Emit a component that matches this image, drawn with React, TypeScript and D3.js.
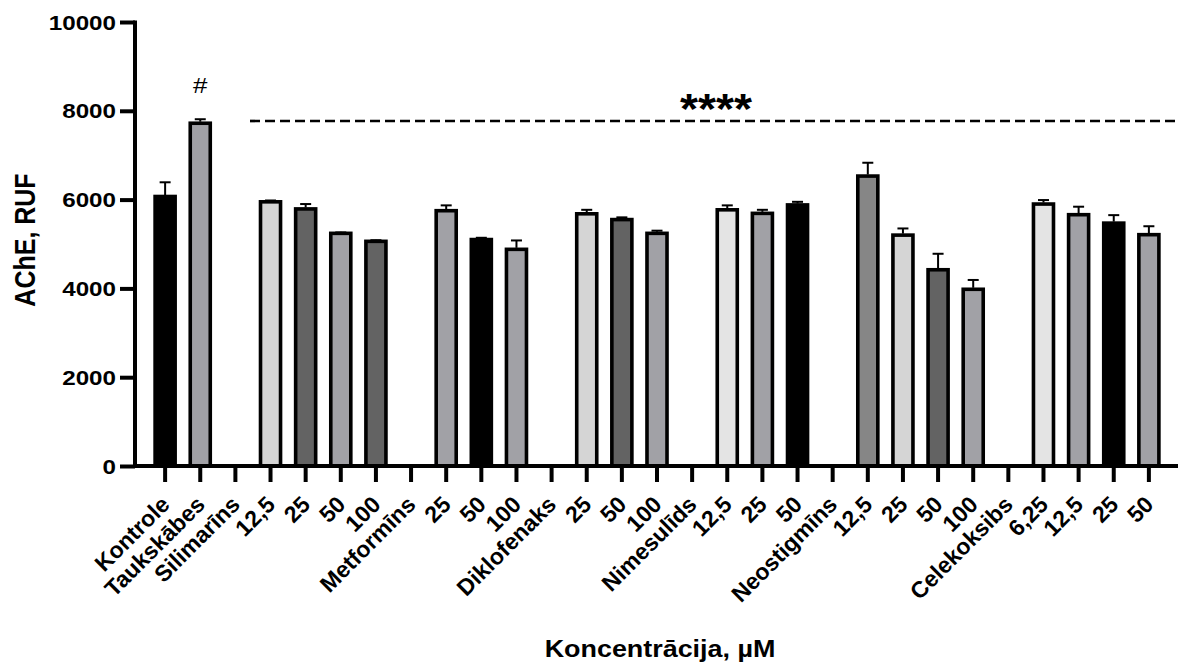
import React, { useEffect, useRef } from 'react'
import * as d3 from 'd3'

// x axis categories (drug names are group headers without bars)
const categories = [
  'Kontrole', 'Taukskābes', 'Silimarīns', '12,5', '25', '50', '100',
  'Metformīns', '25', '50', '100',
  'Diklofenaks', '25', '50', '100',
  'Nimesulīds', '12,5', '25', '50',
  'Neostigmīns', '12,5', '25', '50', '100',
  'Celekoksibs', '6,25', '12,5', '25', '50',
]
// mean AChE, RUF (null = no bar)
const means: (number | null)[] = [
  6070, 7720, null, 5950, 5790, 5240, 5060,
  null, 5750, 5100, 4880,
  null, 5680, 5550, 5240,
  null, 5770, 5690, 5880,
  null, 6530, 5200, 4420, 3980,
  null, 5900, 5660, 5470, 5210,
]
// error (SEM, upward only)
const errors: (number | null)[] = [
  320, 90, null, 30, 110, 20, 25,
  null, 120, 40, 200,
  null, 90, 50, 60,
  null, 100, 80, 70,
  null, 300, 150, 360, 210,
  null, 90, 180, 180, 190,
]
const yTicks = [0, 2000, 4000, 6000, 8000, 10000]

// bar fills (style)
const K = '#000000', G = '#a1a1a6', D = '#636363', L = '#d5d5d5', XL = '#e4e4e4', M = '#868686'
const fills = [
  K, G, null, L, D, G, D,
  null, G, K, G,
  null, L, D, G,
  null, XL, G, K,
  null, M, L, D, G,
  null, XL, G, K, G,
]

const FONT = '"Liberation Sans", Arial, sans-serif'
const SX = 1.18 // the picture is a bit wider than tall

export default function App() {
  const ref = useRef<SVGSVGElement | null>(null)

  useEffect(() => {
    const svg = d3.select(ref.current)
    svg.selectAll('*').remove()

    const x = d3.scaleBand<number>()
      .domain(categories.map((_, i) => i))
      .range([140, 1174])
      .padding(0.43)
    const y = d3.scaleLinear().domain([0, 10000]).range([466, 22])

    // y axis
    const yAxis = svg.append('g')
      .attr('transform', 'translate(135,0)')
      .call(d3.axisLeft(y).tickValues(yTicks).tickSize(15).tickSizeOuter(0).tickFormat(() => ''))
    yAxis.select('.domain').attr('stroke', '#000').attr('stroke-width', 4).attr('d', 'M0,20.5V466')
    yAxis.selectAll('.tick line').attr('stroke', '#000').attr('stroke-width', 4)
    svg.selectAll('.ylab')
      .data(yTicks)
      .enter()
      .append('text')
      .attr('class', 'ylab')
      .attr('transform', d => 'translate(116,' + y(d) + ') scale(' + SX + ',1)')
      .attr('dy', '0.37em')
      .attr('text-anchor', 'end')
      .attr('font-family', FONT).attr('font-weight', 'bold').attr('font-size', 20.5)
      .text(d => d3.format('d')(d))

    // bars
    const idx = means.map((v, i) => i).filter(i => means[i] !== null)
    svg.selectAll('.bar')
      .data(idx)
      .enter()
      .append('rect')
      .attr('class', 'bar')
      .attr('x', i => x(i)!)
      .attr('y', i => y(means[i]!))
      .attr('width', x.bandwidth())
      .attr('height', i => y(0) - y(means[i]!))
      .attr('fill', i => fills[i]!)
      .attr('stroke', '#000')
      .attr('stroke-width', 3.6)

    // error bars
    const eb = svg.selectAll('.err').data(idx).enter().append('g').attr('class', 'err')
    eb.append('line')
      .attr('x1', i => x(i)! + x.bandwidth() / 2)
      .attr('x2', i => x(i)! + x.bandwidth() / 2)
      .attr('y1', i => y(means[i]!) - 1.5)
      .attr('y2', i => y(means[i]! + errors[i]!))
      .attr('stroke', '#000').attr('stroke-width', 2)
    eb.append('line')
      .attr('x1', i => x(i)! + x.bandwidth() / 2 - 5.5)
      .attr('x2', i => x(i)! + x.bandwidth() / 2 + 5.5)
      .attr('y1', i => y(means[i]! + errors[i]!))
      .attr('y2', i => y(means[i]! + errors[i]!))
      .attr('stroke', '#000').attr('stroke-width', 2)

    // x axis
    const xAxis = svg.append('g')
      .attr('transform', 'translate(0,466)')
      .call(d3.axisBottom(x).tickSize(16).tickSizeOuter(0).tickFormat(() => ''))
    xAxis.select('.domain').remove()
    xAxis.selectAll('.tick line').attr('stroke', '#000').attr('stroke-width', 4)
    svg.selectAll('.xlab')
      .data(categories)
      .enter()
      .append('text')
      .attr('class', 'xlab')
      .attr('transform', (d, i) =>
        'translate(' + (x(i)! + x.bandwidth() / 2 + 6) + ',506) rotate(-45)')
      .attr('text-anchor', 'end')
      .attr('font-family', FONT).attr('font-weight', 'bold').attr('font-size', 23)
      .text(d => d)
    svg.append('line')
      .attr('x1', 133).attr('x2', 1178)
      .attr('y1', 466).attr('y2', 466)
      .attr('stroke', '#000').attr('stroke-width', 4)

    // significance markers
    svg.append('line')
      .attr('x1', 250).attr('x2', 1178)
      .attr('y1', 121).attr('y2', 121)
      .attr('stroke', '#000').attr('stroke-width', 2.7)
      .attr('stroke-dasharray', '10,5')
    svg.append('text')
      .attr('transform', 'translate(716,123) scale(1.1,1)')
      .attr('text-anchor', 'middle')
      .attr('font-family', FONT).attr('font-weight', 'bold').attr('font-size', 42)
      .text('****')
    svg.append('text')
      .attr('transform', 'translate(' + (x(1)! + x.bandwidth() / 2) + ',93) scale(' + SX + ',1)')
      .attr('text-anchor', 'middle')
      .attr('font-family', FONT).attr('font-size', 22)
      .text('#')

    // axis titles
    svg.append('text')
      .attr('transform', 'translate(35,240) scale(' + SX + ',1) rotate(-90)')
      .attr('text-anchor', 'middle')
      .attr('font-family', FONT).attr('font-weight', 'bold').attr('font-size', 25)
      .text('AChE, RUF')
    svg.append('text')
      .attr('transform', 'translate(660,657) scale(1.17,1)')
      .attr('text-anchor', 'middle')
      .attr('font-family', FONT).attr('font-weight', 'bold').attr('font-size', 23)
      .text('Koncentrācija, µM')
  }, [])

  return (
    <svg ref={ref} width={1178} height={664}
      style={{ position: 'absolute', left: 0, top: 0, background: '#fff' }} />
  )
}
